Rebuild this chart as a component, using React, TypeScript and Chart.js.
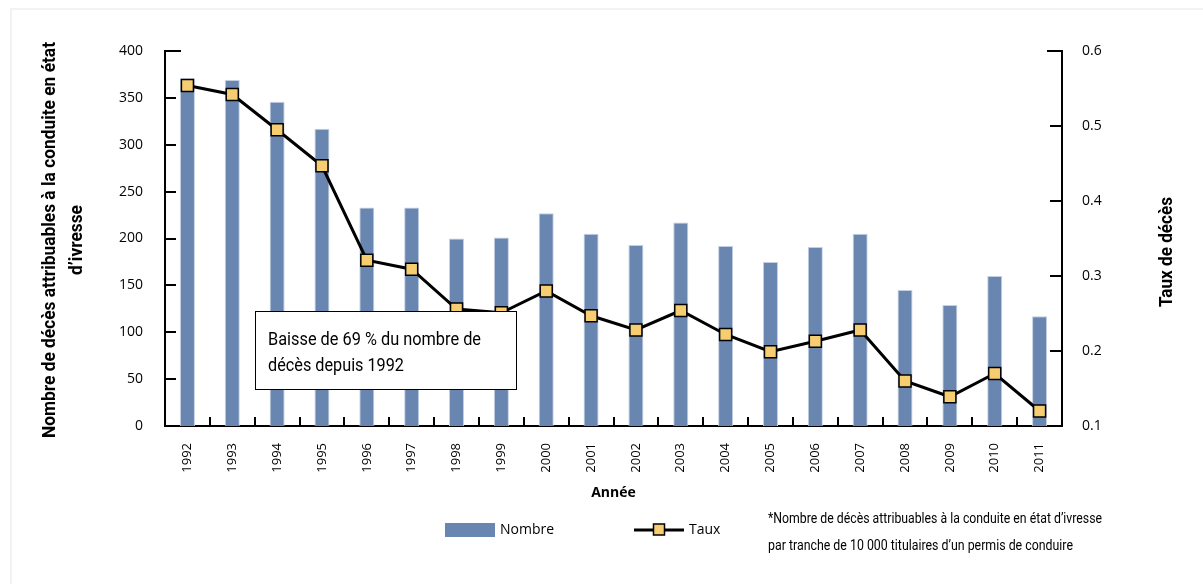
import React, { useEffect, useRef } from 'react';
import { Chart, registerables } from 'chart.js';

Chart.register(...registerables);

const years = ['1992', '1993', '1994', '1995', '1996', '1997', '1998', '1999', '2000', '2001', '2002', '2003', '2004', '2005', '2006', '2007', '2008', '2009', '2010', '2011'];
const nombre = [371, 369, 346, 317, 233, 233, 200, 201, 227, 205, 193, 217, 192, 175, 191, 205, 145, 129, 160, 117];
const taux = [0.554, 0.542, 0.495, 0.447, 0.321, 0.309, 0.256, 0.251, 0.28, 0.247, 0.228, 0.254, 0.222, 0.199, 0.213, 0.228, 0.16, 0.139, 0.17, 0.12];
const leftTicks = [0, 50, 100, 150, 200, 250, 300, 350, 400];
const rightTicks = [0.1, 0.2, 0.3, 0.4, 0.5, 0.6];

const leftTitle = ['Nombre de décès attribuables à la conduite en état', 'd’ivresse'];
const rightTitle = 'Taux de décès';
const xTitle = 'Année';
const noteText = ['Baisse de 69 % du nombre de', 'décès depuis 1992'];
const footnote = ['*Nombre de décès attribuables à la conduite en état d’ivresse', 'par tranche de 10 000 titulaires d’un permis de conduire'];
const legendLabels = ['Nombre', 'Taux'];

const BAR = '#6886b0';
const BAR_EDGE = '#c3d0e2';
const MARK = '#f7cd72';
const COND = 'Roboto, "Noto Sans", sans-serif';
const SANS = '"Open Sans", "Noto Sans", sans-serif';

// draw text horizontally compressed (condensed look) to a given width
function fitText(ctx: CanvasRenderingContext2D, text: string, x: number, y: number, w: number, align: 'left' | 'center', rot = 0) {
  const m = ctx.measureText(text).width;
  const s = w / m;
  ctx.save();
  ctx.translate(x, y);
  if (rot) ctx.rotate(rot);
  ctx.scale(s, 1);
  ctx.textAlign = align;
  ctx.fillText(text, 0, 0);
  ctx.restore();
}

const decor = {
  id: 'decor',
  beforeDraw(chart: any) {
    const ctx = chart.ctx;
    ctx.save();
    ctx.strokeStyle = '#f4f2ef';
    ctx.lineWidth = 2;
    ctx.beginPath();
    ctx.moveTo(11, 584);
    ctx.lineTo(11, 9);
    ctx.lineTo(1203, 9);
    ctx.stroke();
    ctx.restore();
  },
  afterDraw(chart: any) {
    const ctx = chart.ctx;
    const area = chart.chartArea;
    const y = chart.scales.y;
    const y1 = chart.scales.y1;
    const x = chart.scales.x;
    ctx.save();
    ctx.strokeStyle = '#000';
    ctx.lineWidth = 2;
    ctx.beginPath();
    y.ticks.forEach((t: any) => {
      const py = Math.round(y.getPixelForValue(t.value));
      const len = t.value === 400 ? 16 : 11;
      ctx.moveTo(area.left, py);
      ctx.lineTo(area.left + len, py);
    });
    y1.ticks.forEach((t: any) => {
      const py = Math.round(y1.getPixelForValue(t.value));
      const len = Math.abs(t.value - 0.6) < 1e-6 ? 15 : 12;
      ctx.moveTo(area.right, py);
      ctx.lineTo(area.right - len, py);
    });
    for (let i = 1; i < years.length; i++) {
      const px = Math.round((x.getPixelForValue(i - 1) + x.getPixelForValue(i)) / 2);
      ctx.moveTo(px, area.bottom);
      ctx.lineTo(px, area.bottom - 9);
    }
    ctx.stroke();

    // axis titles
    ctx.fillStyle = '#000';
    ctx.textBaseline = 'middle';
    ctx.font = 'bold 19px ' + COND;
    const cy = 240;
    fitText(ctx, leftTitle[0], 50, cy, 396, 'center', -Math.PI / 2);
    const w2 = ctx.measureText(leftTitle[1]).width;
    const s0 = 396 / ctx.measureText(leftTitle[0]).width;
    fitText(ctx, leftTitle[1], 77, cy, w2 * s0, 'center', -Math.PI / 2);
    fitText(ctx, rightTitle, 1167, 252, 110, 'center', -Math.PI / 2);
    ctx.font = 'bold 14px ' + SANS;
    ctx.textAlign = 'center';
    ctx.fillText(xTitle, (area.left + area.right) / 2, 493);

    // annotation box
    ctx.fillStyle = '#fff';
    ctx.fillRect(255, 311, 262, 79);
    ctx.lineWidth = 1;
    ctx.strokeStyle = '#000';
    ctx.strokeRect(255.5, 311.5, 261, 78);
    ctx.fillStyle = '#000';
    ctx.textBaseline = 'alphabetic';
    ctx.font = '19px ' + COND;
    fitText(ctx, noteText[0], 268, 345, 213, 'left');
    fitText(ctx, noteText[1], 268, 371, 136, 'left');

    // legend
    const ds0 = chart.data.datasets[0];
    const ds1 = chart.data.datasets[1];
    ctx.fillStyle = ds0.backgroundColor;
    ctx.fillRect(445, 523, 50, 14);
    ctx.fillStyle = '#000';
    ctx.font = '14px ' + SANS;
    ctx.textBaseline = 'middle';
    ctx.textAlign = 'left';
    ctx.fillText(legendLabels[0], 500, 530);
    ctx.strokeStyle = ds1.borderColor;
    ctx.lineWidth = 3;
    ctx.beginPath();
    ctx.moveTo(634, 530);
    ctx.lineTo(684, 530);
    ctx.stroke();
    ctx.fillStyle = ds1.pointBackgroundColor;
    ctx.fillRect(653.5, 524, 11, 11);
    ctx.lineWidth = 1.5;
    ctx.strokeRect(653.5, 524, 11, 11);
    ctx.fillStyle = '#000';
    ctx.fillText(legendLabels[1], 689, 530);

    // footnote
    ctx.font = '15px ' + COND;
    fitText(ctx, footnote[0], 768, 519, 334, 'left');
    fitText(ctx, footnote[1], 768, 546, 305, 'left');
    ctx.restore();
  },
};

export default function App() {
  const ref = useRef<HTMLCanvasElement>(null);
  useEffect(() => {
    if (!ref.current) return;
    const chart = new Chart(ref.current, {
      type: 'bar',
      data: {
        labels: years,
        datasets: [
          {
            type: 'bar',
            label: legendLabels[0],
            data: nombre,
            backgroundColor: BAR,
            borderColor: BAR_EDGE,
            borderWidth: 1,
            barPercentage: 0.335,
            categoryPercentage: 1,
            yAxisID: 'y',
            order: 2,
          },
          {
            type: 'line',
            label: legendLabels[1],
            data: taux,
            borderColor: '#000',
            borderWidth: 3,
            pointStyle: 'rect',
            pointRadius: 8.5,
            pointBackgroundColor: MARK,
            pointBorderColor: '#000',
            pointBorderWidth: 1.5,
            tension: 0,
            yAxisID: 'y1',
            order: 1,
          } as any,
        ],
      },
      options: {
        animation: false,
        responsive: true,
        maintainAspectRatio: false,
        layout: { padding: { top: 51, left: 0, right: 0, bottom: 0 } },
        plugins: { legend: { display: false }, tooltip: { enabled: false } },
        scales: {
          x: {
            grid: { display: false },
            border: { display: true, color: '#000', width: 2 },
            ticks: {
              minRotation: 90,
              maxRotation: 90,
              padding: 9,
              color: '#000',
              font: { family: SANS, size: 13 },
            },
            afterFit: (s: any) => { s.height = 158; },
          },
          y: {
            position: 'left',
            min: 0,
            max: 400,
            afterBuildTicks: (s: any) => { s.ticks = leftTicks.map((v) => ({ value: v })); },
            grid: { display: false },
            border: { display: true, color: '#000', width: 2 },
            ticks: { padding: 14, color: '#000', font: { family: SANS, size: 14 } },
            afterFit: (s: any) => { s.width = 165; },
          },
          y1: {
            position: 'right',
            min: 0.1,
            max: 0.6,
            afterBuildTicks: (s: any) => { s.ticks = rightTicks.map((v) => ({ value: v })); },
            grid: { display: false },
            border: { display: true, color: '#000', width: 2 },
            ticks: {
              padding: 12,
              color: '#000',
              font: { family: SANS, size: 14 },
              callback: (v: any) => Number(v).toFixed(1),
            },
            afterFit: (s: any) => { s.width = 141; },
          },
        },
      },
      plugins: [decor],
    });
    return () => chart.destroy();
  }, []);
  return (
    <div style={{ position: 'absolute', left: 0, top: 0, width: 1203, height: 584, background: '#fff' }}>
      <canvas ref={ref} />
    </div>
  );
}
